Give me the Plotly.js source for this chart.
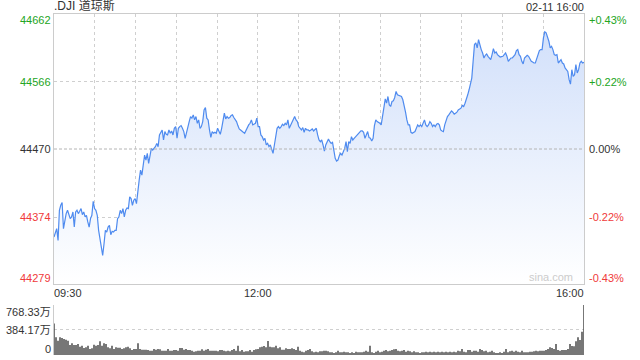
<!DOCTYPE html>
<html>
<head>
<meta charset="utf-8">
<script src="https://cdn.plot.ly/plotly-3.0.1.min.js"></script>
<style>
html,body{margin:0;padding:0;background:#fff;}
#chart{width:640px;height:360px;}
</style>
</head>
<body>
<div id="chart"></div>
<script>
// ---- data ----
const titleText = ".DJI 道琼斯";
const stampText = "02-11 16:00";
const sessionMinutes = 390;            // 09:30 -> 16:00
const timeLabels = ["09:30", "12:00", "16:00"];
const timeLabelMinutes = [0, 150, 390];
const prevClose = 44470.5;
const priceTicks = [44662, 44566, 44470, 44374, 44279];
const pctLabels = ["+0.43%", "+0.22%", "0.00%", "-0.22%", "-0.43%"];
const volTicks = [768.33, 384.17, 0];
const volTickLabels = ["768.33万", "384.17万", "0"];

// per-minute index price
const price = [
44345.6,44352.7,44357.5,44340.9,44383.6,44390.7,44394.5,44357.5,44371.7,44378.8,
44383.6,44376.5,44371.7,44374.1,44381.2,44359.8,44381.2,44383.6,44378.8,44382.2,
44386.0,44377.4,44381.2,44374.1,44376.5,44367.0,44359.8,44371.7,44376.5,44396.4,
44386.0,44383.6,44376.5,44355.1,44343.2,44333.7,44319.5,44336.1,44355.1,44352.7,
44359.8,44362.2,44348.9,44353.7,44352.7,44355.1,44355.1,44371.7,44374.1,44383.6,
44378.8,44386.0,44374.1,44383.6,44386.9,44386.0,44402.6,44400.2,44390.7,44397.8,
44400.2,44393.1,44414.4,44426.3,44440.6,44433.4,44447.7,44461.9,44454.8,44464.3,
44450.1,44461.9,44471.4,44469.1,44471.4,44473.8,44478.5,44473.8,44490.4,44495.2,
44497.5,44483.3,44495.2,44491.4,44490.4,44497.5,44492.8,44496.1,44490.4,44499.9,
44502.3,44485.7,44499.9,44502.3,44503.7,44499.9,44495.2,44485.7,44495.2,44499.9,
44509.4,44516.5,44514.2,44518.9,44511.8,44516.5,44507.0,44511.8,44499.9,44502.3,
44509.4,44526.0,44529.4,44514.2,44511.8,44497.5,44487.1,44495.2,44492.8,44494.2,
44492.8,44499.9,44495.2,44491.4,44499.9,44514.2,44521.3,44513.2,44516.5,44514.2,
44515.1,44518.0,44518.9,44515.1,44511.8,44509.4,44503.7,44499.0,44497.5,44495.2,
44494.2,44492.8,44497.5,44499.9,44504.7,44507.0,44511.8,44504.7,44505.6,44507.0,
44514.2,44502.3,44502.3,44490.4,44488.0,44483.3,44485.7,44476.2,44478.5,44473.8,
44476.2,44469.1,44464.3,44476.2,44490.4,44499.9,44502.3,44499.9,44502.3,44505.6,
44503.7,44507.0,44504.7,44511.8,44499.9,44504.7,44509.4,44514.2,44516.5,44511.8,
44509.4,44502.3,44499.9,44497.5,44500.9,44494.2,44499.9,44497.5,44497.5,44496.1,
44497.5,44499.0,44496.1,44497.5,
44499.9,44490.4,44483.3,44480.9,44483.3,44476.2,44467.6,44476.2,44481.9,44484.7,
44480.9,44478.5,44480.0,44464.3,44457.2,44453.4,44454.8,44461.0,44464.3,44461.9,
44466.7,44471.4,44480.9,44466.7,44480.9,44478.5,44488.0,44483.3,44485.7,44488.0,
44490.4,44492.8,44495.2,44496.1,44496.1,44494.2,44485.7,44490.4,44495.2,44486.6,
44485.7,44481.9,44485.7,44503.7,44511.8,44509.4,44508.5,44507.0,44504.7,44516.5,
44528.4,44541.7,44535.5,44545.0,44533.1,44530.8,44537.9,44538.8,44543.6,44552.1,
44547.4,44546.4,44546.0,44545.0,44540.3,44528.4,44522.7,44511.8,44504.7,44504.7,
44494.2,44492.8,44494.2,44495.2,44499.9,44504.7,44502.3,44504.7,44502.3,44507.0,
44511.8,44504.7,44502.3,44504.7,44509.4,44507.0,44502.3,44504.7,44502.3,44505.6,
44506.6,44504.7,44497.5,44496.1,44495.2,44504.7,44511.8,44516.5,44518.9,44521.3,
44524.6,44522.7,44519.9,44521.3,44522.7,44526.0,44527.5,44528.4,44532.2,44530.8,
44535.5,44540.3,44547.4,44554.5,44561.6,44571.1,44594.9,44618.6,44621.0,44613.9,
44625.7,44616.2,44611.5,44606.7,44599.6,44603.4,44605.3,44602.0,44599.6,44597.2,
44604.4,44612.9,44606.7,44608.2,44604.4,44602.0,44601.0,44601.5,44602.0,44604.4,
44606.7,44602.0,44594.9,44597.2,44599.6,44599.6,44602.0,44604.4,44610.1,44611.5,
44604.4,44602.0,44594.9,44591.1,44599.6,44602.0,44603.4,44602.0,44597.2,44594.9,
44593.9,44592.5,44592.5,44599.6,44606.7,44610.1,44611.5,44611.5,44628.1,44636.7,
44635.2,44630.5,44623.4,44613.9,44616.2,44611.5,44604.4,44603.4,44604.4,44592.5,
44594.9,44597.2,44592.5,44591.1,44585.4,44583.0,44580.6,44568.8,44562.6,44583.0,
44573.5,44575.9,44590.1,44578.3,44583.0,44592.5,44594.9,44592.5,44593.4
];

// volume bars, in 万
const volume = [
486,271,220,271,261,246,236,220,154,179,154,154,169,128,143,108,118,143,92,102,
159,143,154,210,143,179,169,118,102,143,92,118,113,113,92,102,118,128,102,77,
92,92,179,92,82,82,82,77,67,67,92,82,92,87,67,67,67,92,67,67,
77,77,67,108,108,82,92,77,77,67,51,56,67,67,87,67,82,92,67,67,
67,67,56,77,77,67,56,67,56,77,92,67,143,56,77,51,56,56,77,51,
77,87,92,118,128,138,118,215,128,118,118,143,102,118,82,82,102,92,92,102,
92,77,128,67,51,41,67,77,92,56,41,51,41,56,56,
67,67,56,41,41,31,41,67,41,41,51,41,41,31,41,31,51,41,41,41,
51,67,51,143,41,31,51,67,41,51,67,77,56,67,77,87,92,67,56,67,
77,51,67,56,41,56,41,41,31,41,41,51,41,51,41,51,41,51,41,51,
41,51,41,51,41,51,41,67,56,92,51,41,77,77,51,67,67,51,92,77,
56,67,41,51,67,41,31,31,41,31,51,92,41,56,67,51,67,51,41,67,
41,41,41,51,51,56,67,56,67,67,67,77,92,118,108,92,169,77,67,77,
77,77,92,169,138,133,210,271,230,358,768.33
];

// ---- build ----
const px = price.map((_, i) => i * sessionMinutes / (price.length - 1));
const vx = volume.map((_, i) => i * sessionMinutes / (volume.length - 1));
const yMin = priceTicks[priceTicks.length - 1], yMax = priceTicks[0];

const FONT = 'Arial, "Liberation Sans", "Noto Sans CJK SC", sans-serif';
const GREEN = '#23a523', RED = '#f03a3a', DARK = '#333333';
const labelColor = i => i < 2 ? GREEN : (i === 2 ? DARK : RED);
const endShift = i => i === 0 ? -5.5 : (i === priceTicks.length - 1 ? 6 : 0);

const traces = [
  {
    x: px, y: price, type: 'scatter', mode: 'lines',
    line: {color: '#4f8bef', width: 1.2},
    fill: 'tozeroy',
    fillgradient: {type: 'vertical', start: yMin, stop: yMax,
      colorscale: [[0, 'rgba(255,255,255,1)'], [1, 'rgba(207,222,250,1)']]},
    xaxis: 'x', yaxis: 'y', hoverinfo: 'skip'
  },
  {
    x: vx, y: volume, type: 'bar',
    marker: {color: '#555555', line: {width: 0}},
    xaxis: 'x2', yaxis: 'y2', hoverinfo: 'skip'
  }
];

const annotations = [];
priceTicks.forEach((v, i) => {
  annotations.push({xref: 'paper', yref: 'y', x: 0, y: v, xanchor: 'right', yanchor: 'middle',
    xshift: -1, yshift: endShift(i), showarrow: false, text: String(v),
    font: {family: FONT, size: 11, color: labelColor(i)}});
  annotations.push({xref: 'paper', yref: 'y', x: 1, y: v, xanchor: 'left', yanchor: 'middle',
    xshift: 3, yshift: endShift(i), showarrow: false, text: pctLabels[i],
    font: {family: FONT, size: 11, color: labelColor(i)}});
});
volTicks.forEach((v, i) => {
  annotations.push({xref: 'paper', yref: 'y2', x: 0, y: v, xanchor: 'right', yanchor: 'middle',
    xshift: -1, yshift: i === 0 ? -7 : (i === 2 ? 6 : 0), showarrow: false, text: volTickLabels[i],
    font: {family: FONT, size: 11, color: DARK}});
});
timeLabels.forEach((t, i) => {
  annotations.push({xref: 'x', yref: 'paper', x: timeLabelMinutes[i], y: 0.2082,
    xanchor: i === 0 ? 'left' : (i === 2 ? 'right' : 'center'), yanchor: 'top',
    xshift: i === 0 ? -2 : (i === 2 ? 2 : 0), yshift: -1,
    showarrow: false, text: t, font: {family: FONT, size: 11, color: DARK}});
});
annotations.push({xref: 'paper', yref: 'paper', x: 0, y: 1, xanchor: 'left', yanchor: 'bottom',
  xshift: -2, yshift: -1, showarrow: false, text: titleText, font: {family: FONT, size: 12, color: DARK}});
annotations.push({xref: 'paper', yref: 'paper', x: 1, y: 1, xanchor: 'right', yanchor: 'bottom',
  xshift: 2, yshift: -1, showarrow: false, text: stampText, font: {family: FONT, size: 11, color: DARK}});
annotations.push({xref: 'x', yref: 'y', x: sessionMinutes, y: yMin, xanchor: 'right', yanchor: 'bottom',
  xshift: -9, yshift: -1, showarrow: false, text: 'sina.com', font: {family: FONT, size: 11, color: '#cccccc'}});

const layout = {
  width: 640, height: 360,
  margin: {l: 54, r: 56, t: 14, b: 5},
  paper_bgcolor: '#ffffff', plot_bgcolor: '#ffffff',
  showlegend: false, bargap: 0.2,
  xaxis: {domain: [0, 1], range: [0, sessionMinutes], anchor: 'y',
    tick0: 0, dtick: 30, showticklabels: false, ticks: '',
    showgrid: true, gridcolor: '#cfcfcf', griddash: 'dot', gridwidth: 1,
    showline: true, mirror: true, linecolor: '#cccccc', linewidth: 1, zeroline: false},
  yaxis: {domain: [0.2082, 1], range: [yMin, yMax], anchor: 'x',
    tickvals: [priceTicks[1], priceTicks[3]], showticklabels: false, ticks: '',
    showgrid: true, gridcolor: '#cfcfcf', griddash: 'dot', gridwidth: 1,
    showline: true, mirror: true, linecolor: '#cccccc', linewidth: 1, zeroline: false},
  xaxis2: {domain: [0, 1], range: [0, sessionMinutes], anchor: 'y2',
    showticklabels: false, ticks: '', showgrid: false, showline: false, zeroline: false},
  yaxis2: {domain: [0, 0.1466], range: [0, volTicks[0]], anchor: 'x2',
    tickvals: [volTicks[0], volTicks[1]], showticklabels: false, ticks: '',
    showgrid: true, gridcolor: '#cfcfcf', griddash: 'dot', gridwidth: 1,
    showline: true, linecolor: '#cccccc', linewidth: 1, zeroline: false},
  shapes: [
    {type: 'line', xref: 'paper', yref: 'y', x0: 0, x1: 1, y0: prevClose, y1: prevClose,
     line: {color: '#b4b4b4', width: 1, dash: '3px,2px'}}
  ],
  annotations: annotations
};

Plotly.newPlot('chart', traces, layout, {staticPlot: true, displayModeBar: false});
</script>
</body>
</html>
